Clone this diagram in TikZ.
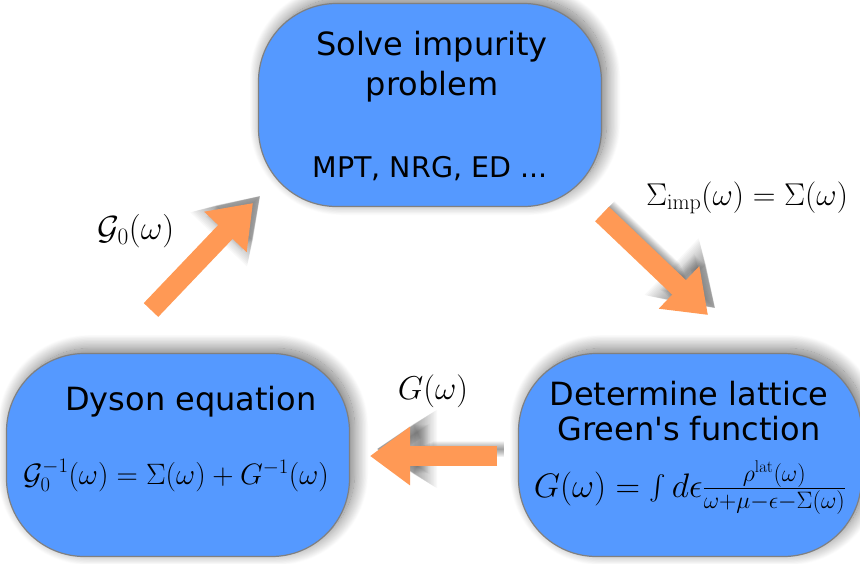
\RequirePackage{fix-cm}
\documentclass[tikz,border=0pt]{standalone}
\usepackage{amsmath}
\usepackage[no-math]{fontspec}
\newfontfamily\boxfont{DejaVu Sans}
\usetikzlibrary{positioning,arrows.meta,shadows.blur}
\usepackage{xcolor}
\definecolor{boxblue}{RGB}{85,153,255}
\definecolor{floworange}{RGB}{255,153,85}

\begin{document}
\begin{tikzpicture}[x=1pt,y=-1pt,
    stage/.style={draw=gray,line width=1.2pt,fill=boxblue,rounded corners=78pt,
        minimum width=343pt,minimum height=203pt,inner sep=0pt,
        blur shadow={shadow xshift=5pt,shadow yshift=5pt,shadow blur radius=14pt,
            shadow blur steps=24,shadow opacity=55}},
    title/.style={font=\boxfont\fontsize{#1}{#1}\selectfont,anchor=base,inner sep=0pt},
    title/.default=32,
    formula/.style={font=\fontsize{#1}{#1}\selectfont,anchor=base,inner sep=0pt},
    flow/.style={line width=20pt,draw=floworange,-{Triangle[length=40pt,width=56pt]}}
    ]
\useasboundingbox (0,0) rectangle (860,563);

% boxes
\node[stage] (solve) at (430,105) {};
\node[stage] (dyson) at (178,455) {};
\node[stage] (lattice) at (690,455) {};

\node[title] (solvea) at (432,55) {Solve impurity};
\node[title] (solveb) at (432,95) {problem};
\node[title=28.5] (methods) at (430,177) {MPT, NRG, ED ...};

\node[title] (dysona) at (191,410) {Dyson equation};
\node[formula=29.5] (dysoneq) at (176,484)
    {$\mathcal{G}_0^{-1}(\omega)=\Sigma(\omega)+G^{-1}(\omega)$};

\node[title] (latticea) at (689,405) {Determine lattice};
\node[title] (latticeb) at (689,440) {Green\textquotesingle s function};
\node[formula=34] (latticeeq) at (690,497)
    {$G(\omega)=\int d\epsilon\frac{\rho^{\mathrm{lat}}(\omega)}{\omega+\mu-\epsilon-\Sigma(\omega)}$};

% arrows
\coordinate (g0from) at (151,310);
\coordinate (g0to) at (253,203);
\coordinate (sigfrom) at (602,214);
\coordinate (sigto) at (708,315);
\coordinate (gfrom) at (497,456);
\coordinate (gto) at (370,456);

\foreach \from/\to in {g0from/g0to,sigfrom/sigto,gfrom/gto}
  \foreach \k [evaluate=\k as \w using 16+1.5*\k,
               evaluate=\k as \hl using 36+1.5*\k,
               evaluate=\k as \hw using 50+1.5*\k] in {1,...,16}
    \draw[line width=\w pt,draw=black,opacity=0.028,-{Triangle[length=\hl pt,width=\hw pt]}]
      ([xshift=7pt,yshift=7pt]\from) -- ([xshift=7pt,yshift=7pt]\to);

\draw[flow] (g0from) -- (g0to);
\draw[flow] (sigfrom) -- (sigto);
\draw[flow] (gfrom) -- (gto);

\node[formula=33.5] (g0lbl) at (136,239) {$\mathcal{G}_0(\omega)$};
\node[formula=31.5] (siglbl) at (747,205) {$\Sigma_{\mathrm{imp}}(\omega)=\Sigma(\omega)$};
\node[formula=33] (glbl) at (433,399) {$G(\omega)$};
\end{tikzpicture}
\end{document}
